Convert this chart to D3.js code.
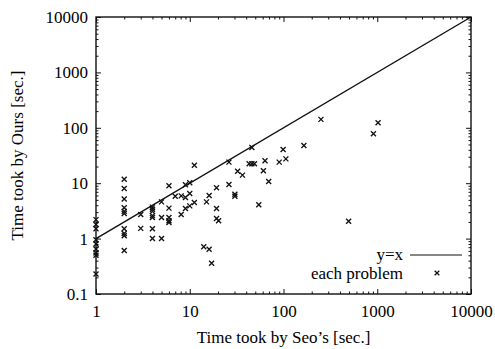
<!DOCTYPE html>
<html>
<head>
<meta charset="utf-8">
<script src="https://cdn.jsdelivr.net/npm/d3@7"></script>
<style>
  body { margin: 0; background: white; }
  svg text { font-family: "Liberation Serif", "DejaVu Serif", serif; fill: #000; }
</style>
</head>
<body>
<div id="viz"></div>
<script>
// time taken by Seo's method (x) and by ours (y), in seconds
const seoTimes = [
  1, 1, 1, 1, 1, 1, 1, 1, 1,
  2, 2, 2, 2, 2, 2, 2, 2, 2, 2,
  3, 3,
  4, 4, 4, 4, 4, 4, 4,
  5, 5, 5,
  6, 6, 6, 6, 6,
  7, 8.1, 8.1,
  9, 9, 9,
  10, 10, 10,
  11.2, 11.2,
  14.1, 15.1, 16.1, 16.1, 17.1,
  19.3, 19.3, 19.3, 20.3,
  26.2, 26.2, 30.3, 30.3, 32.4, 36.5,
  43, 46, 46, 49,
  54.5, 61, 63.5, 69.5, 90, 99, 106,
  165, 251, 495, 910, 1020
];
const oursTimes = [
  2.2, 1.8, 1.5, 0.95, 0.8, 0.65, 0.55, 0.5, 0.23,
  11.8, 8.0, 5.2, 3.6, 3.1, 2.85, 1.5, 1.24, 1.13, 0.61,
  2.73, 1.53,
  3.7, 3.4, 3.1, 2.6, 2.4, 1.5, 1.0,
  4.6, 2.4, 1.0,
  9.0, 3.55, 2.4, 2.1, 1.95,
  5.8, 5.9, 2.73,
  9.4, 5.5, 3.5,
  10.2, 6.5, 3.9,
  21, 4.5,
  0.71, 4.6, 6.0, 0.64, 0.36,
  8.3, 3.5, 2.3, 2.1,
  24, 9.5, 6.3, 5.8, 16.5, 14.0,
  22.5, 44, 22.5, 22.5,
  4.1, 16.8, 25.5, 10.7, 24, 40.5, 27.5,
  48, 142, 2.05, 78, 123
];
const xTickValues = [1, 10, 100, 1000, 10000];
const yTickValues = [0.1, 1, 10, 100, 1000, 10000];
const xTitle = "Time took by Seo\u2019s [sec.]";
const yTitle = "Time took by Ours [sec.]";
const legendLabels = ["y=x", "each problem"];

const width = 495, height = 349;
const plotLeft = 96, plotRight = 471, plotTop = 17, plotBottom = 294;
const fontSize = "17px";

const svg = d3.select("#viz").append("svg")
  .attr("width", width).attr("height", height);

const x = d3.scaleLog().domain([1, 10000]).range([plotLeft, plotRight]);
const y = d3.scaleLog().domain([0.1, 10000]).range([plotBottom, plotTop]);

function minors(domain) {
  const out = [];
  for (let d = domain[0]; d < domain[1] * 0.999; d *= 10) {
    for (let k = 2; k <= 9; k++) out.push(d * k);
  }
  return out;
}

const fmt = d => d3.format("~g")(d);

function styleAxis(g) {
  g.select(".domain").remove();
  g.selectAll("line").attr("stroke", "#111").attr("stroke-width", 1);
  g.selectAll("text").style("font-size", fontSize);
}

// major ticks, labelled on bottom / left, mirrored on top / right
svg.append("g").attr("transform", `translate(0,${plotBottom})`)
  .call(d3.axisBottom(x).tickValues(xTickValues).tickFormat(fmt).tickSizeInner(-5).tickPadding(11))
  .call(styleAxis);
svg.append("g").attr("transform", `translate(0,${plotTop})`)
  .call(d3.axisTop(x).tickValues(xTickValues).tickFormat("").tickSizeInner(-5))
  .call(styleAxis);
svg.append("g").attr("transform", `translate(${plotLeft},0)`)
  .call(d3.axisLeft(y).tickValues(yTickValues).tickFormat(fmt).tickSizeInner(-5).tickPadding(8))
  .call(styleAxis);
svg.append("g").attr("transform", `translate(${plotRight},0)`)
  .call(d3.axisRight(y).tickValues(yTickValues).tickFormat("").tickSizeInner(-5))
  .call(styleAxis);

// minor ticks
svg.append("g").attr("transform", `translate(0,${plotBottom})`)
  .call(d3.axisBottom(x).tickValues(minors(x.domain())).tickFormat("").tickSizeInner(-2.5))
  .call(styleAxis);
svg.append("g").attr("transform", `translate(0,${plotTop})`)
  .call(d3.axisTop(x).tickValues(minors(x.domain())).tickFormat("").tickSizeInner(-2.5))
  .call(styleAxis);
svg.append("g").attr("transform", `translate(${plotLeft},0)`)
  .call(d3.axisLeft(y).tickValues(minors(y.domain())).tickFormat("").tickSizeInner(-2.5))
  .call(styleAxis);
svg.append("g").attr("transform", `translate(${plotRight},0)`)
  .call(d3.axisRight(y).tickValues(minors(y.domain())).tickFormat("").tickSizeInner(-2.5))
  .call(styleAxis);

// frame
svg.append("rect")
  .attr("x", plotLeft).attr("y", plotTop)
  .attr("width", plotRight - plotLeft).attr("height", plotBottom - plotTop)
  .attr("fill", "none").attr("stroke", "#111").attr("stroke-width", 1.4);

// y = x line
svg.append("line")
  .attr("x1", x(1)).attr("y1", y(1))
  .attr("x2", x(10000)).attr("y2", y(10000))
  .attr("stroke", "#111").attr("stroke-width", 1.4);

// cross markers
const cross = (cx, cy, r) => `M${cx - r},${cy - r}L${cx + r},${cy + r}M${cx - r},${cy + r}L${cx + r},${cy - r}`;

svg.append("g").selectAll("path")
  .data(seoTimes.map((s, i) => [s, oursTimes[i]]))
  .enter().append("path")
  .attr("d", d => cross(x(d[0]), y(d[1]), 2.5))
  .attr("stroke", "#111").attr("stroke-width", 1.35).attr("fill", "none");

// legend
const legend = svg.append("g");
legend.append("text").attr("x", 403).attr("y", 260)
  .attr("text-anchor", "end").style("font-size", fontSize).text(legendLabels[0]);
legend.append("line").attr("x1", 410).attr("x2", 462).attr("y1", 255).attr("y2", 255)
  .attr("stroke", "#111").attr("stroke-width", 1.2);
legend.append("text").attr("x", 403).attr("y", 279)
  .attr("text-anchor", "end").style("font-size", fontSize).text(legendLabels[1]);
legend.append("path").attr("d", cross(437, 273, 2.3))
  .attr("stroke", "#111").attr("stroke-width", 1.3).attr("fill", "none");

// axis titles
svg.append("text").attr("x", (plotLeft + plotRight) / 2).attr("y", 343)
  .attr("text-anchor", "middle").style("font-size", fontSize).text(xTitle);
svg.append("text")
  .attr("transform", `translate(23,${(plotTop + plotBottom) / 2}) rotate(-90)`)
  .attr("text-anchor", "middle").style("font-size", fontSize).text(yTitle);
</script>
</body>
</html>
